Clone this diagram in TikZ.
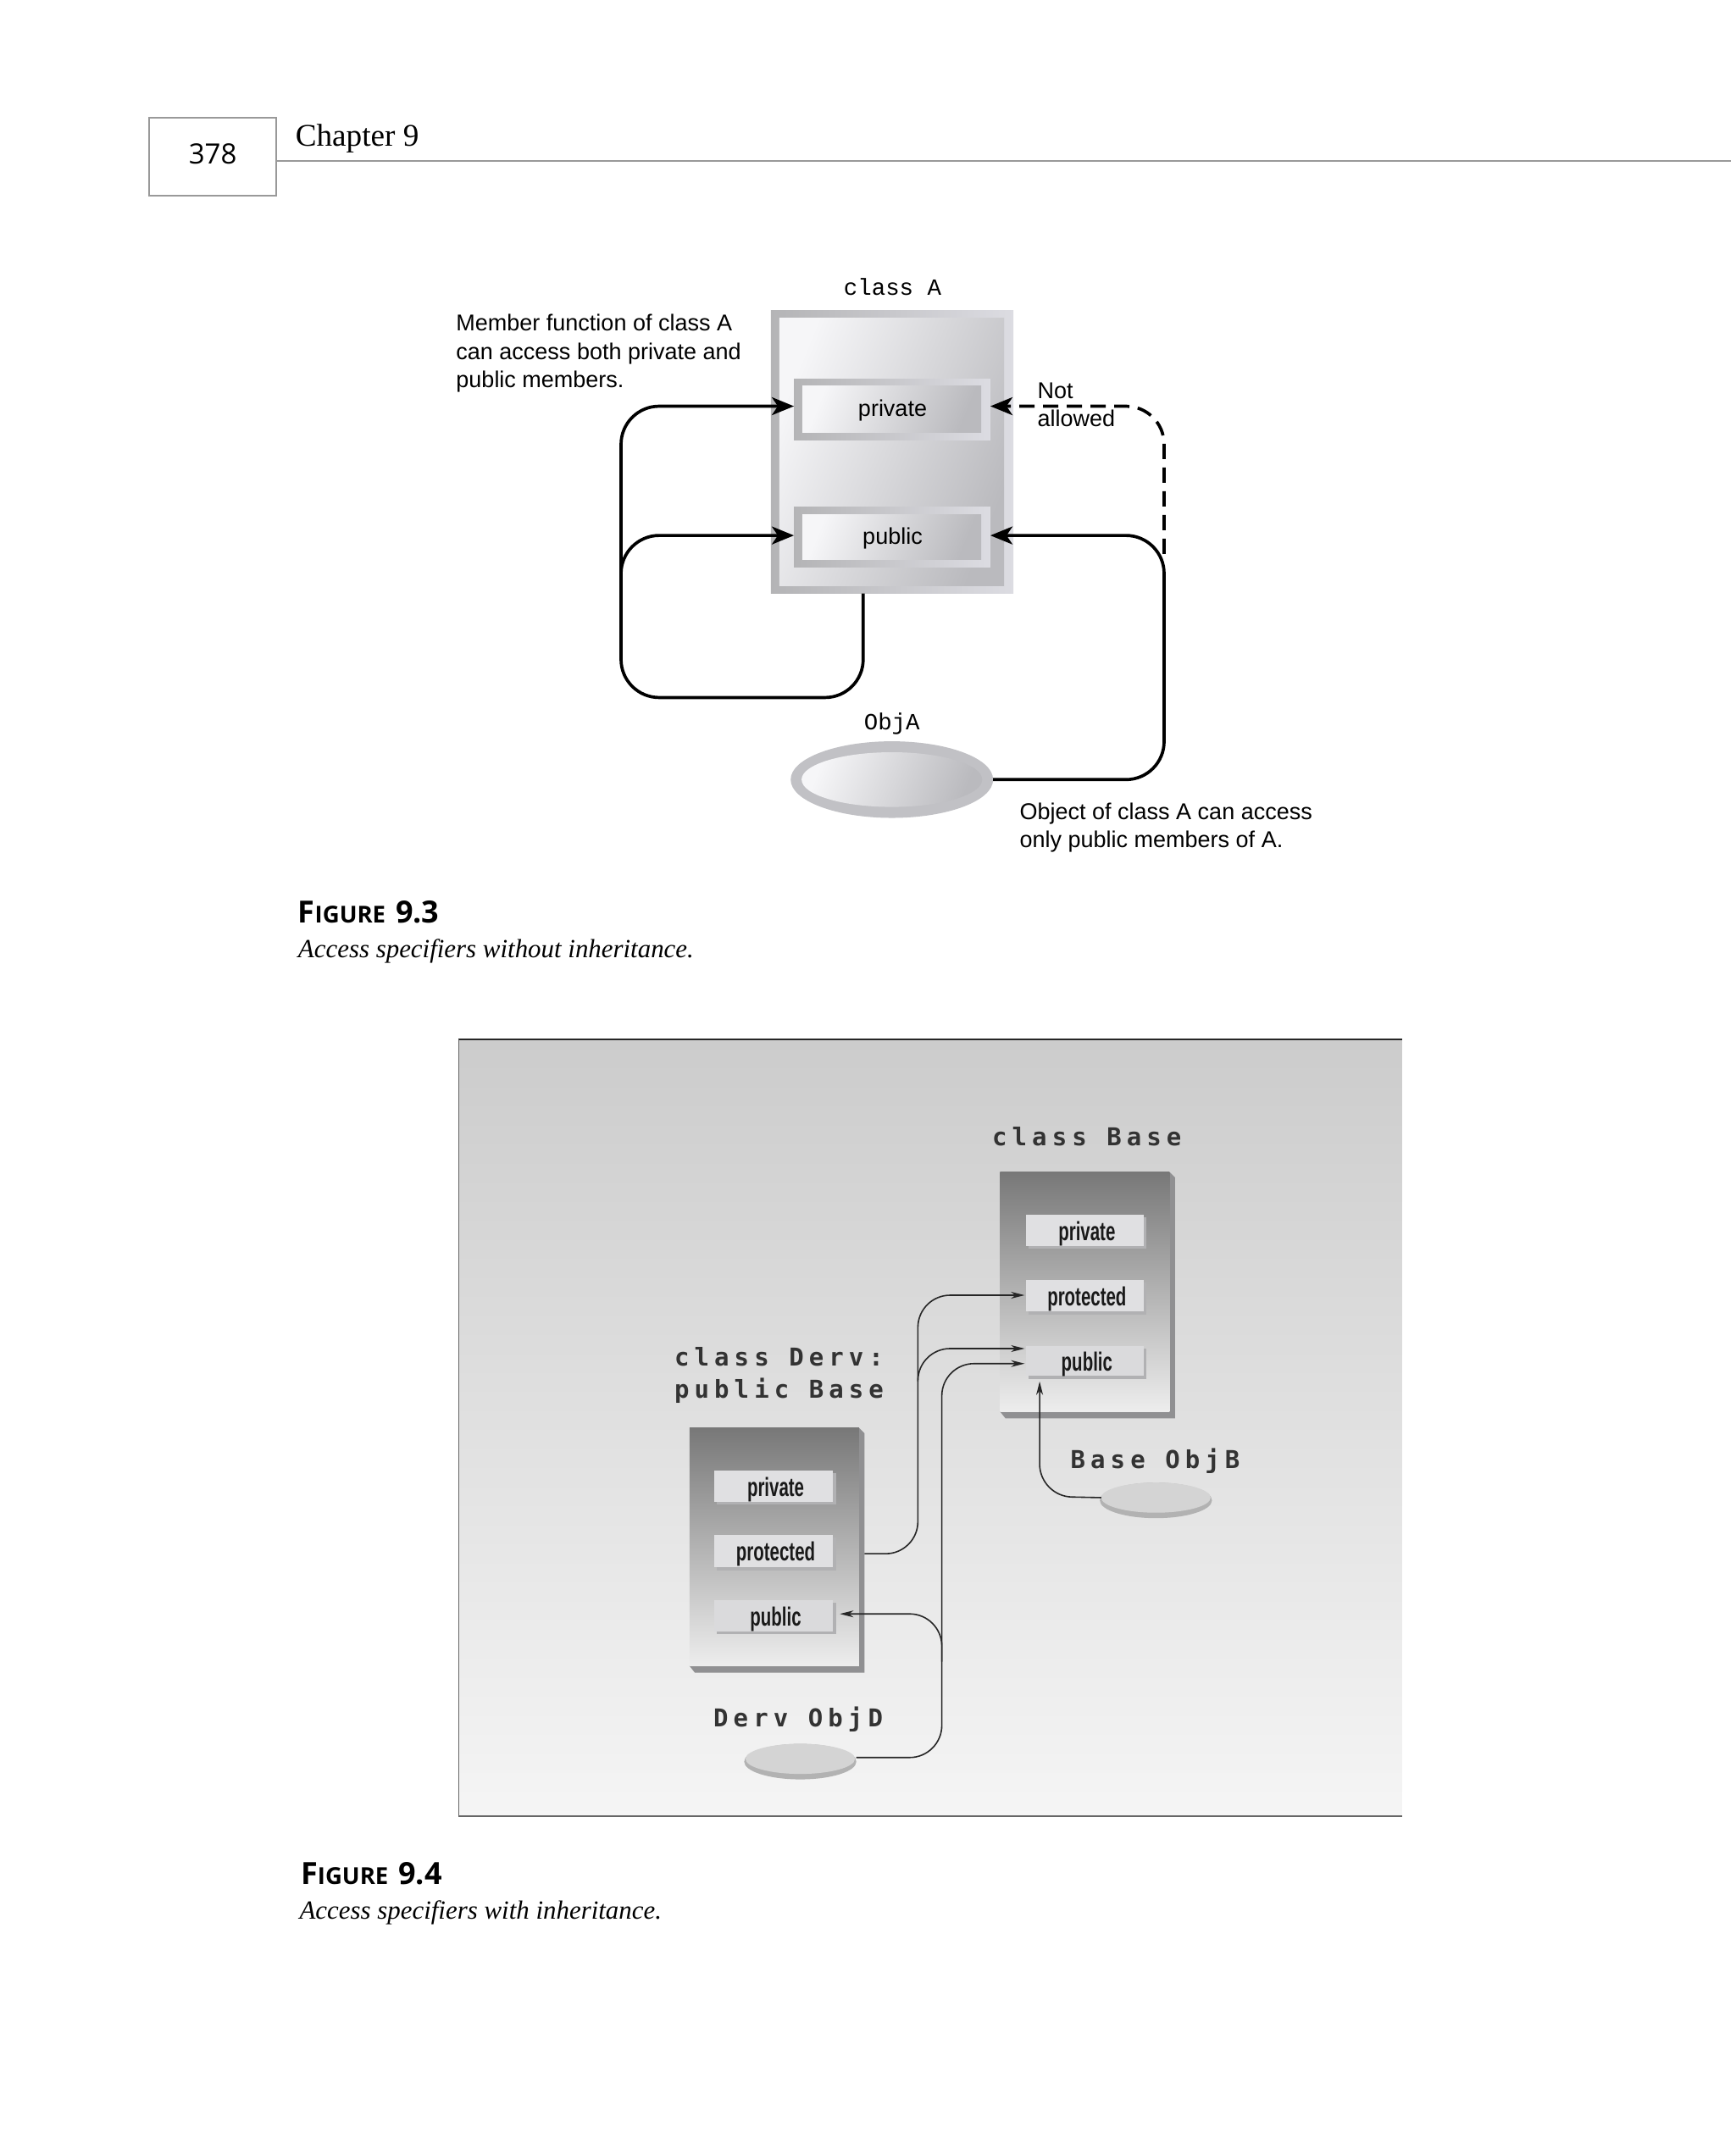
\documentclass[tikz,border=0pt]{standalone}
\usepackage{fontspec}
\usetikzlibrary{arrows.meta,shapes.geometric}
\setmainfont{Liberation Serif}
\setsansfont{Liberation Sans}
\setmonofont{Liberation Mono}
\newfontfamily\hdrfont{Open Sans}
\newfontfamily\condfont[FakeStretch=0.66]{Liberation Sans Bold}
\newfontfamily\spacedfont[LetterSpace=21]{DejaVu Sans Mono Bold}
\definecolor{frameL}{HTML}{B4B4B6}
\definecolor{frameM}{HTML}{C8C8CA}
\definecolor{frameR}{HTML}{DCDCE2}
\definecolor{innerL}{HTML}{F6F6F8}
\definecolor{innerM}{HTML}{CECED0}
\definecolor{innerR}{HTML}{BABABE}
\definecolor{shadowG}{HTML}{909092}
\definecolor{memberG}{HTML}{E0E0E2}
\definecolor{memberP}{HTML}{DADADC}
\tikzset{
  px/.style={inner sep=0pt,outer sep=0pt},
  span/.style n args={4}{rectangle,px,minimum width={1.6145pt*(#3-#1)},minimum height={1.6145pt*(#4-#2)},at={({(#1+#3)/2},{(#2+#4)/2})}},
  frameshade/.style={left color=frameL,middle color=frameM,right color=frameR},
  innershade/.style={left color=innerL,middle color=innerM,right color=innerR,shading angle=68},
  sansA/.style={font=\sffamily\fontsize{27}{33.3}\selectfont,px,align=left,text=black},
  memA/.style={font=\sffamily\fontsize{27}{33}\selectfont,px,text=black},
  monoA/.style={font=\ttfamily\fontsize{27.4}{33}\selectfont,px,text=black},
  spaced/.style={font=\spacedfont\fontsize{29}{38.5}\selectfont,px,align=center,text=black!80},
  cond/.style={font=\condfont\fontsize{31}{33}\selectfont,px,text=black!90},
  capt/.style={font=\rmfamily\itshape\fontsize{30.9}{36}\selectfont,px,anchor=base west},
  fignum/.style={font=\hdrfont\fontsize{36}{40}\selectfont,px,anchor=base west},
  conA/.style={line width=3.7pt,rounded corners=45pt,line cap=butt},
  tipA/.style={-{Stealth[length=26pt,width=21pt,inset=7pt]}},
  conB/.style={line width=1.6pt,rounded corners=38pt,color=black!85},
  tipB/.style={-{Stealth[length=16pt,width=8pt,inset=5pt]}},
}
\newcommand{\gradbox}[5]{%
  \fill[shadowG] (#4,#3) -- (#4+4,#3+4) -- (#4+4,#5+5) -- (#2+4,#5+5) -- (#2,#5) -- cycle;
  \node[span={#2}{#3}{#4}{#5},top color=black!53,middle color=black!25,bottom color=black!7] (#1) {};}
\newcommand{\member}[7]{%
  \fill[shadowG!70] (#3+2,#4+2) rectangle (#5+2,#6+2);
  \node[span={#3}{#4}{#5}{#6},fill=#7] (#1) {};
  \node[cond] (#1txt) at ([xshift=2.5pt,yshift=-4pt]#1.center) {#2};}
\begin{document}
\begin{tikzpicture}[x=1.6145pt,y=-1.6145pt]
\useasboundingbox (0,0) rectangle (1268.5,1567.6);
\fill[white] (0,0) rectangle (1268.5,1567.6);
% header
\node[span={109}{86}{202}{143},draw=black!40,line width=2pt,fill=white] (pagebox) {};
\node[px,font=\hdrfont\fontsize{33}{40}\selectfont] (pagenum) at (155.5,112.8) {378};
\coordinate (hdrL) at (202,117.7);
\coordinate (hdrR) at (1265.4,117.7);
\draw[black!40,line width=2pt] (hdrL) -- (hdrR);
\node[px,font=\rmfamily\fontsize{37.2}{40}\selectfont,anchor=base west] (chap) at (216,107) {Chapter 9};
% figure 9.3
\node[monoA] (lblA) at (652.5,210) {class A};
\node[span={563.6}{226.7}{740.8}{434},frameshade] (classA) {};
\node[span={569.8}{232.3}{734}{428},innershade] (classAin) {};
\node[span={580.4}{276.9}{724}{321.5},frameshade] (privA) {};
\node[span={586.6}{282.4}{717.3}{315.9},innershade] (privAin) {};
\node[memA] at (652.5,300.3) (privAtxt) {private};
\node[span={580.4}{370.4}{724}{414.4},frameshade] (pubA) {};
\node[span={586.6}{376}{717.3}{408.8},innershade] (pubAin) {};
\node[memA] at (652.5,393.3) (pubAtxt) {public};
\node[monoA] (lblObjA) at (652,529) {ObjA};
\node[ellipse,px,minimum width=1.6145pt*148,minimum height=1.6145pt*56,fill=innerR!90!white] (objA) at (652,570) {};
\node[ellipse,px,minimum width=1.6145pt*132,minimum height=1.6145pt*40,innershade] (objAin) at (652,570) {};
\node[sansA,anchor=west] (noteL) at (333.5,258.3) {Member function of class A\\can access both private and\\public members.};
\node[sansA,anchor=west] (noteN) at (758.5,296) {Not\\allowed};
\node[sansA,anchor=west] (noteO) at (745.5,605.3) {Object of class A can access\\only public members of A.};
\coordinate (exitA) at (631,434);
\coordinate (loopBL) at (454,510);
\coordinate (loopBR) at (631,510);
\coordinate (loopTL) at (454,297);
\coordinate (joinL) at (454,430);
\coordinate (pubLcorner) at (454,391.5);
\coordinate (loopRB) at (851,570);
\coordinate (loopRT) at (851,391.5);
\coordinate (dashJoin) at (851,405);
\coordinate (dashT) at (851,297);
\draw[conA,tipA] (exitA) -- (loopBR) -- (loopBL) -- (loopTL) -- (privA.west |- loopTL);
\draw[conA,tipA] (joinL) -- (pubLcorner) -- (pubA.west |- pubLcorner);
\draw[conA,tipA] (objA.east) -- (loopRB) -- (loopRT) -- (pubA.east |- loopRT);
\draw[conA,tipA,dash pattern=on 18pt off 10pt] (dashJoin) -- (dashT) -- (privA.east |- dashT);
\node[fignum] (fig3) at (218,674.5) {\textbf{F\fontsize{27.5}{40}\selectfont IGURE\hspace{12pt}\fontsize{36}{40}\selectfont 9.3}};
\node[capt] (cap3) at (218,700) {Access specifiers without inheritance.};
% figure 9.4
\node[span={335.3}{760}{1025}{1328},top color=black!20,middle color=black!12,bottom color=black!4] (bg) {};
\draw[black!85,line width=1.6pt] (bg.north east) -- (bg.north west);
\draw[black!60,line width=1.6pt] (bg.north west) -- (bg.south west) -- (bg.south east);
\node[spaced] (lblBase) at (794.5,831) {class Base};
\gradbox{classBase}{731}{857}{855}{1032}
\member{privB}{private}{750}{888}{836}{911}{memberG}
\member{protB}{protected}{750}{936}{836}{959}{memberG}
\member{pubB}{public}{750}{984}{836}{1006}{memberP}
\node[spaced] (lblDerv) at (569.5,1005.5) {class Derv:\\public Base};
\gradbox{classDerv}{504}{1044}{628}{1218}
\member{privD}{private}{522}{1075}{609}{1098}{memberG}
\member{protD}{protected}{522}{1122}{609}{1146}{memberG}
\member{pubD}{public}{522}{1170}{609}{1193}{memberP}
\node[spaced] (lblObjB) at (844.5,1068) {Base ObjB};
\node[spaced] (lblObjD) at (583.5,1257) {Derv ObjD};
\node[ellipse,px,minimum width=1.6145pt*82,minimum height=1.6145pt*26,fill=black!30] (objB) at (845,1097) {};
\node[ellipse,px,minimum width=1.6145pt*80,minimum height=1.6145pt*22,fill=black!17] (objBtop) at (845,1095) {};
\node[ellipse,px,minimum width=1.6145pt*82,minimum height=1.6145pt*26,fill=black!30] (objD) at (585,1288) {};
\node[ellipse,px,minimum width=1.6145pt*80,minimum height=1.6145pt*22,fill=black!17] (objDtop) at (585,1286) {};
\coordinate (c1a) at (671,1136);
\coordinate (c1b) at (671,947);
\coordinate (t1) at (749,947);
\coordinate (j2) at (671,1010);
\coordinate (c2b) at (671,986);
\coordinate (t2) at (749,986);
\coordinate (c3a) at (688.5,1285);
\coordinate (c3b) at (688.5,997);
\coordinate (t3) at (749,997);
\coordinate (j4) at (688.5,1215);
\coordinate (c4) at (688.5,1180);
\coordinate (t4) at (614,1180);
\coordinate (c5a) at (760,1094);
\coordinate (t5) at (760,1010);
\draw[conB,tipB] (classDerv.east |- c1a) ++(4,0) -- (c1a) -- (c1b) -- (t1);
\draw[conB,tipB] (j2) -- (c2b) -- (t2);
\draw[conB,tipB] (objD.east |- c3a) -- (c3a) -- (c3b) -- (t3);
\draw[conB,tipB] (j4) -- (c4) -- (t4);
\draw[conB,tipB] (objBtop.west) -- (c5a) -- (t5);
\node[fignum] (fig4) at (220,1377.5) {\textbf{F\fontsize{27.5}{40}\selectfont IGURE\hspace{12pt}\fontsize{36}{40}\selectfont 9.4}};
\node[capt] (cap4) at (219,1403) {Access specifiers with inheritance.};
\end{tikzpicture}
\end{document}
